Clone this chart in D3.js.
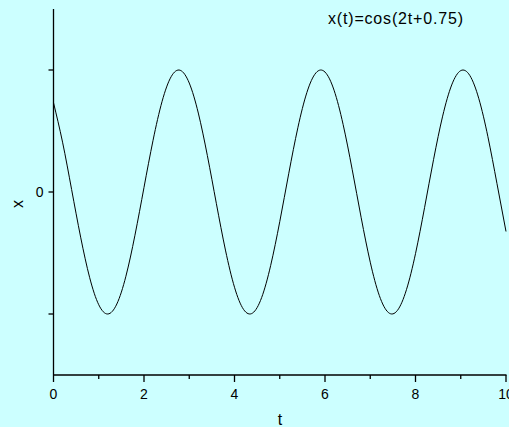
<!DOCTYPE html>
<html>
<head>
<meta charset="utf-8">
<script src="https://cdn.jsdelivr.net/npm/d3@7"></script>
<style>
	body { margin: 0; background: #ccffff; }
	svg { display: block; font-family: "Liberation Sans", Arial, sans-serif; }
</style>
</head>
<body>
<svg id="chart" width="509" height="427"></svg>
<script>
//sample times (t) and values
var tValues = [0.0,0.2,0.4,0.6,0.8,1.0,1.2,1.4,1.6,1.8,2.0,2.2,2.4,2.6,2.8,3.0,3.2,3.4,3.6,3.8,4.0,
	4.2,4.4,4.6,4.8,5.0,5.2,5.4,5.6,5.8,6.0,6.2,6.4,6.6,6.8,7.0,7.2,7.4,7.6,7.8,8.0,
	8.2,8.4,8.6,8.8,9.0,9.2,9.4,9.6,9.8,10.0];
var xValues = [0.7317,0.4085,0.0208,-0.3702,-0.7027,-0.9243,-1.0000,-0.9178,-0.6906,-0.3545,0.0376,
	0.4238,0.7431,0.9451,0.9978,0.8931,0.6472,0.2993,-0.0959,-0.4760,-0.7808,
	-0.9625,-0.9922,-0.8652,-0.6013,-0.2432,0.1538,0.5265,0.8162,0.9767,0.9832,
	0.8345,0.5540,0.1861,-0.2112,-0.5752,-0.8483,-0.9875,-0.9709,-0.8008,-0.5054,
	-0.1285,0.2679,0.6219,0.8776,0.9950,0.9552,0.7646,0.4534,0.0703,-0.3237];
var xTicksMajor = [0,2,4,6,8,10];
var xTicksMinor = [1,3,5,7,9];
var yTicks = [-1,0,1];
var yTickLabels = {"0":"0"};
var title = "x(t)=cos(2t+0.75)";

var svg = d3.select("#chart");
//plot area (note: "top" is reserved on window, so use own names)
var plotLeft = 53.5, plotRight = 506, plotTop = 9, plotBottom = 375;

var x = d3.scaleLinear().domain([0,10]).range([plotLeft,plotRight]);
var y = d3.scaleLinear().domain([-1.5,1.5]).range([plotBottom,plotTop]);

//axes
svg.append("line").attr("x1",plotLeft).attr("x2",plotLeft).attr("y1",plotTop).attr("y2",plotBottom)
	.attr("stroke","#000").attr("stroke-width",1.3);
svg.append("line").attr("x1",plotLeft).attr("x2",plotRight+0.5).attr("y1",plotBottom).attr("y2",plotBottom)
	.attr("stroke","#000").attr("stroke-width",1.3);

svg.selectAll(".xmaj").data(xTicksMajor).enter().append("line")
	.attr("x1",function(d){return x(d);}).attr("x2",function(d){return x(d);})
	.attr("y1",plotBottom).attr("y2",plotBottom+7)
	.attr("stroke","#000").attr("stroke-width",1.3);
svg.selectAll(".xmin").data(xTicksMinor).enter().append("line")
	.attr("x1",function(d){return x(d);}).attr("x2",function(d){return x(d);})
	.attr("y1",plotBottom).attr("y2",plotBottom+4)
	.attr("stroke","#000").attr("stroke-width",1.3);
svg.selectAll(".xlab").data(xTicksMajor).enter().append("text")
	.attr("x",function(d){return x(d);}).attr("y",399)
	.attr("text-anchor","middle").attr("font-size",14)
	.text(function(d){return d;});

svg.selectAll(".ytick").data(yTicks).enter().append("line")
	.attr("x1",plotLeft-5).attr("x2",plotLeft)
	.attr("y1",function(d){return y(d);}).attr("y2",function(d){return y(d);})
	.attr("stroke","#000").attr("stroke-width",1.3);
svg.selectAll(".ylab").data(yTicks.filter(function(d){return yTickLabels[d]!=undefined;})).enter().append("text")
	.attr("x",plotLeft-10).attr("y",function(d){return y(d)+5;})
	.attr("text-anchor","end").attr("font-size",14)
	.text(function(d){return yTickLabels[d];});

//axis labels
svg.append("text").attr("x",280).attr("y",425).attr("text-anchor","middle")
	.attr("font-size",16).text("t");
svg.append("text").attr("transform","translate(23,204) rotate(-90)").attr("text-anchor","middle")
	.attr("font-size",16).text("x");

//title
svg.append("text").attr("x",328).attr("y",24).attr("font-size",16)
	.attr("textLength",135).attr("lengthAdjust","spacing").text(title);

//the curve
var line = d3.line()
	.x(function(d,i){return x(tValues[i]);})
	.y(function(d){return y(d);})
	.curve(d3.curveNatural);
svg.append("path").datum(xValues).attr("d",line)
	.attr("fill","none").attr("stroke","#000").attr("stroke-width",1);
</script>
</body>
</html>
